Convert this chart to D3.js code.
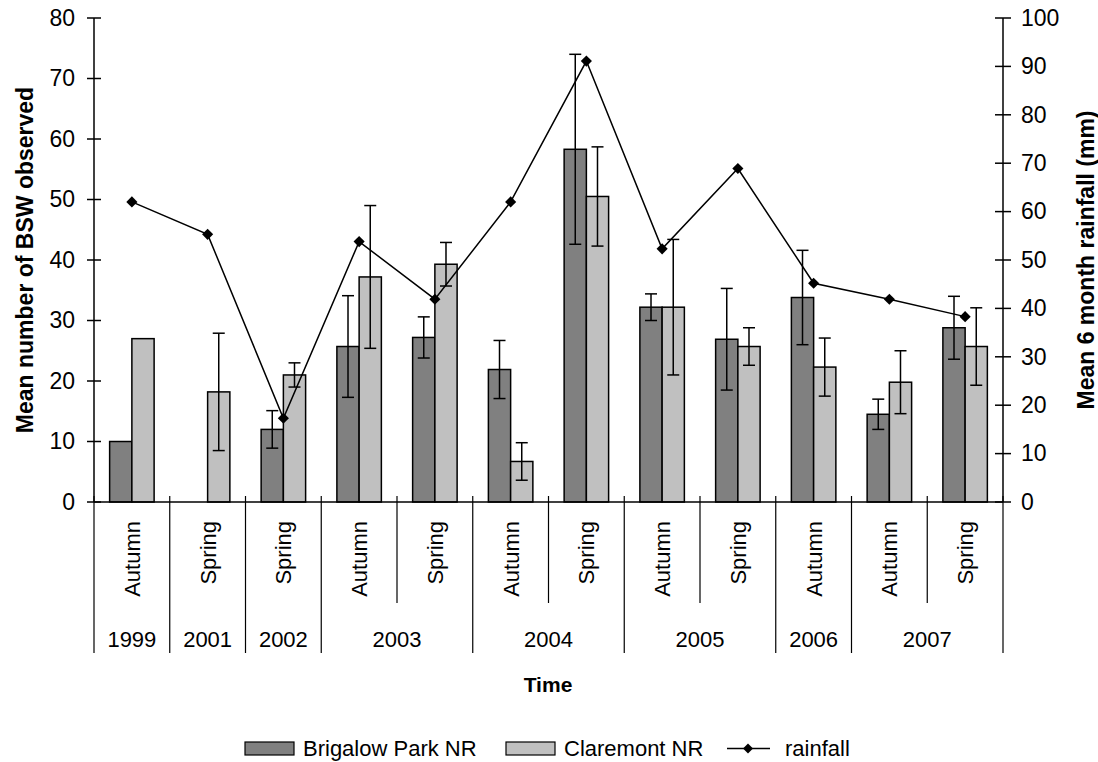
<!DOCTYPE html>
<html><head><meta charset="utf-8">
<script src="https://cdn.jsdelivr.net/npm/d3@7"></script>
<style>body{margin:0;background:#fff;} text{font-family:"Liberation Sans",Arial,sans-serif;fill:#000;}</style>
</head><body><svg id="c" width="1098" height="762"></svg>
<script>
const seasons = ["Autumn","Spring","Spring","Autumn","Spring","Autumn","Spring","Autumn","Spring","Autumn","Autumn","Spring"];
const years = ["1999","2001","2002","2003","2003","2004","2004","2005","2005","2006","2007","2007"];
const brigalow = [10, null, 12.0, 25.7, 27.2, 21.9, 58.3, 32.2, 26.9, 33.8, 14.5, 28.8];
const brigalowErr = [0, null, 3.1, 8.4, 3.4, 4.8, 15.7, 2.2, 8.4, 7.8, 2.5, 5.2];
const claremont = [27, 18.2, 21.0, 37.2, 39.3, 6.7, 50.5, 32.2, 25.7, 22.3, 19.8, 25.7];
const claremontErr = [0, 9.7, 2.0, 11.8, 3.6, 3.1, 8.2, 11.2, 3.1, 4.8, 5.2, 6.4];
const rainfall = [62.0, 55.3, 17.3, 53.8, 41.9, 62.0, 91.1, 52.3, 68.9, 45.2, 41.9, 38.3];
const leftTicks = [0,10,20,30,40,50,60,70,80];
const rightTicks = [0,10,20,30,40,50,60,70,80,90,100];
const seriesNames = ["Brigalow Park NR","Claremont NR","rainfall"];

const svg = d3.select("#c");
const L = 94, R = 1003, T = 18, B = 502;
const idx = d3.range(seasons.length);
const x = d3.scaleBand().domain(idx).range([L, R]).padding(0);
const xs = d3.scaleBand().domain([0,1]).range([0, x.bandwidth()]).paddingInner(0).paddingOuter(0.703);
const y = d3.scaleLinear().domain([0,80]).range([B, T]);
const y2 = d3.scaleLinear().domain([0,100]).range([B, T]);
const dark = "#808080", light = "#c0c0c0";

// bars
const series = [{v: brigalow, e: brigalowErr, c: dark}, {v: claremont, e: claremontErr, c: light}];
series.forEach((s, si) => {
  const g = svg.append("g");
  idx.forEach(i => {
    if (s.v[i] == null) return;
    g.append("rect").attr("x", x(i) + xs(si)).attr("y", y(s.v[i]))
      .attr("width", xs.bandwidth()).attr("height", y(0) - y(s.v[i]))
      .attr("fill", s.c).attr("stroke", "#000").attr("stroke-width", 1.5);
  });
});
// error bars
series.forEach((s, si) => {
  idx.forEach(i => {
    if (s.v[i] == null || !s.e[i]) return;
    const cx = x(i) + xs(si) + xs.bandwidth()/2;
    const hi = y(s.v[i] + s.e[i]), lo = y(s.v[i] - s.e[i]);
    svg.append("line").attr("x1", cx).attr("x2", cx).attr("y1", hi).attr("y2", lo).attr("stroke","#000").attr("stroke-width",1.5);
    [hi, lo].forEach(yy => svg.append("line").attr("x1", cx-6).attr("x2", cx+6).attr("y1", yy).attr("y2", yy).attr("stroke","#000").attr("stroke-width",1.5));
  });
});
// rainfall line
const line = d3.line().x(i => x(i) + x.bandwidth()/2).y(i => y2(rainfall[i]));
svg.append("path").attr("d", line(idx)).attr("fill","none").attr("stroke","#000").attr("stroke-width",1.5);
idx.forEach(i => {
  svg.append("path").attr("d", d3.symbol().type(d3.symbolSquare).size(62)())
    .attr("transform", `translate(${x(i)+x.bandwidth()/2},${y2(rainfall[i])}) rotate(45)`).attr("fill","#000");
});

// left axis
const la = svg.append("g").attr("transform", `translate(${L},0)`)
  .call(d3.axisLeft(y).tickValues(leftTicks).tickSize(0).tickPadding(19).tickFormat(d3.format("d")));
la.select(".domain").remove();
la.selectAll("text").style("font-size","23px").attr("font-family",null);
svg.append("line").attr("x1",L).attr("x2",L).attr("y1",T).attr("y2",B).attr("stroke","#000").attr("stroke-width",1.5);
leftTicks.forEach(t => svg.append("line").attr("x1",L-7).attr("x2",L+7).attr("y1",y(t)).attr("y2",y(t)).attr("stroke","#000").attr("stroke-width",1.5));

// right axis
const ra = svg.append("g").attr("transform", `translate(${R},0)`)
  .call(d3.axisRight(y2).tickValues(rightTicks).tickSize(0).tickPadding(18).tickFormat(d3.format("d")));
ra.select(".domain").remove();
ra.selectAll("text").style("font-size","23px").attr("font-family",null);
svg.append("line").attr("x1",R).attr("x2",R).attr("y1",T).attr("y2",B).attr("stroke","#000").attr("stroke-width",1.5);
rightTicks.forEach(t => svg.append("line").attr("x1",R-8).attr("x2",R+8).attr("y1",y2(t)).attr("y2",y2(t)).attr("stroke","#000").attr("stroke-width",1.5));

// category axis
svg.append("line").attr("x1",L).attr("x2",R).attr("y1",B).attr("y2",B).attr("stroke","#000").attr("stroke-width",1.5);
const bounds = d3.range(seasons.length + 1);
bounds.forEach(b => {
  const xx = b < seasons.length ? x(b) : R;
  const yearBoundary = b === 0 || b === seasons.length || years[b] !== years[b-1];
  svg.append("line").attr("x1",xx).attr("x2",xx).attr("y1",B-6).attr("y2", yearBoundary ? 653 : 603)
    .attr("stroke","#000").attr("stroke-width",1.2);
});
idx.forEach(i => {
  const cx = x(i) + x.bandwidth()/2;
  svg.append("text").attr("transform", `translate(${cx+8},521) rotate(-90)`)
    .attr("text-anchor","end").style("font-size","22px").text(seasons[i]);
});
const groups = [];
years.forEach((yr, i) => {
  if (groups.length && groups[groups.length-1].yr === yr) groups[groups.length-1].end = i;
  else groups.push({yr, start: i, end: i});
});
groups.forEach(g => {
  const cx = (x(g.start) + x(g.end) + x.bandwidth())/2;
  svg.append("text").attr("x", cx).attr("y", 647).attr("text-anchor","middle").style("font-size","22px").text(g.yr);
});

// titles
svg.append("text").attr("transform", `translate(33,${(T+B)/2}) rotate(-90)`).attr("text-anchor","middle")
  .style("font-size","23px").style("font-weight","bold").text("Mean number of BSW observed");
svg.append("text").attr("transform", `translate(1094,${(T+B)/2}) rotate(-90)`).attr("text-anchor","middle")
  .style("font-size","23px").style("font-weight","bold").text("Mean 6 month rainfall (mm)");
svg.append("text").attr("x", 548).attr("y", 692).attr("text-anchor","middle")
  .style("font-size","21px").style("font-weight","bold").text("Time");

// legend
const lg = svg.append("g");
const ly = 748.5;
const swX = [245, 506];
[dark, light].forEach((c, k) => {
  lg.append("rect").attr("x", swX[k]).attr("y", ly-6.5).attr("width", 49).attr("height", 13)
    .attr("fill", c).attr("stroke","#000").attr("stroke-width",1.2);
  lg.append("text").attr("x", swX[k]+58).attr("y", 756).style("font-size","22px").text(seriesNames[k]);
});
lg.append("line").attr("x1", 727).attr("x2", 770).attr("y1", ly).attr("y2", ly).attr("stroke","#000").attr("stroke-width",1.5);
lg.append("path").attr("d", d3.symbol().type(d3.symbolSquare).size(50)()).attr("transform", `translate(748,${ly}) rotate(45)`);
lg.append("text").attr("x", 785).attr("y", 756).style("font-size","22px").text(seriesNames[2]);
</script></body></html>
